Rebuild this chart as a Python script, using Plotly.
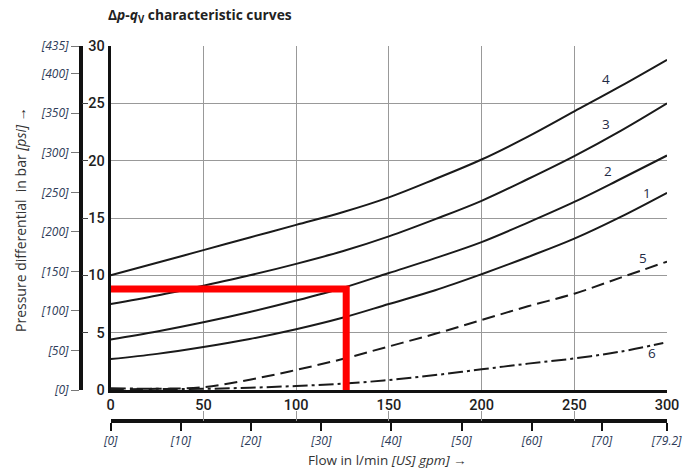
import plotly.graph_objects as go

# ---- data ----
flow = [0, 25, 50, 75, 100, 125, 150, 175, 200, 225, 250, 275, 300]
curve1 = [2.7, 3.15, 3.75, 4.45, 5.3, 6.3, 7.5, 8.7, 10.1, 11.6, 13.2, 15.1, 17.2]
curve2 = [4.4, 5.1, 5.9, 6.8, 7.8, 8.9, 10.2, 11.5, 12.9, 14.6, 16.4, 18.4, 20.45]
curve3 = [7.5, 8.25, 9.1, 10.0, 11.0, 12.1, 13.4, 14.9, 16.5, 18.4, 20.4, 22.6, 25.0]
curve4 = [10.0, 11.1, 12.2, 13.3, 14.4, 15.5, 16.8, 18.4, 20.1, 22.1, 24.3, 26.5, 28.8]
flow5 = [0, 25, 50, 75, 100, 125, 150, 175, 200, 225, 250, 275, 300]
curve5 = [0.05, 0.1, 0.25, 0.9, 1.75, 2.7, 3.8, 4.9, 6.1, 7.3, 8.4, 9.8, 11.2]
flow6 = [0, 25, 50, 75, 100, 125, 150, 175, 200, 225, 250, 275, 298]
curve6 = [0.15, 0.1, 0.1, 0.2, 0.35, 0.55, 0.87, 1.3, 1.8, 2.3, 2.75, 3.35, 4.1]
red_x = [-3, 127, 127]
red_y = [8.8, 8.8, 0]

curve_labels = ["4", "3", "2", "1", "5", "6"]
label_x = [267, 267, 268, 289, 287, 292]
label_y = [27.1, 23.2, 19.1, 17.2, 11.5, 3.2]

bar_ticks = [0, 5, 10, 15, 20, 25, 30]
psi_ticks = [0, 50, 100, 150, 200, 250, 300, 350, 400, 435]
psi_text = ["[0]", "[50]", "[100]", "[150]", "[200]", "[250]", "[300]", "[350]", "[400]", "[435]"]
lmin_ticks = [0, 50, 100, 150, 200, 250, 300]
gpm_ticks = [0, 10, 20, 30, 40, 50, 60, 70, 79.2]
gpm_text = ["[0]", "[10]", "[20]", "[30]", "[40]", "[50]", "[60]", "[70]", "[79.2]"]

BAR_TO_PSI = 14.5038
LMIN_TO_GPM = 1 / 3.78541

fig = go.Figure()
for ys in [curve1, curve2, curve3, curve4]:
    fig.add_trace(go.Scatter(x=flow, y=ys, mode="lines", line=dict(color="#1a1a1a", width=2, shape="spline"),
                             showlegend=False, hoverinfo="skip"))
fig.add_trace(go.Scatter(x=flow5, y=curve5, mode="lines",
                         line=dict(color="#1a1a1a", width=2, dash="13px,6px", shape="spline"),
                         showlegend=False, hoverinfo="skip"))
fig.add_trace(go.Scatter(x=flow6, y=curve6, mode="lines",
                         line=dict(color="#1a1a1a", width=2, dash="15px,4px,3px,4px", shape="spline"),
                         showlegend=False, hoverinfo="skip"))
fig.add_trace(go.Scatter(x=red_x, y=red_y, mode="lines", line=dict(color="#ff0000", width=7),
                         showlegend=False, hoverinfo="skip"))

# dummy traces to activate secondary axes
fig.add_trace(go.Scatter(x=[0], y=[0], xaxis="x2", yaxis="y", mode="none", showlegend=False, hoverinfo="skip"))
fig.add_trace(go.Scatter(x=[0], y=[0], xaxis="x3", yaxis="y", mode="none", showlegend=False, hoverinfo="skip"))
fig.add_trace(go.Scatter(x=[0], y=[0], xaxis="x", yaxis="y2", mode="none", showlegend=False, hoverinfo="skip"))
fig.add_trace(go.Scatter(x=[0], y=[0], xaxis="x", yaxis="y3", mode="none", showlegend=False, hoverinfo="skip"))

for t, xv, yv in zip(curve_labels, label_x, label_y):
    fig.add_annotation(x=xv, y=yv, text=t, showarrow=False,
                       font=dict(family="Open Sans", size=13.5, color="#1f2b45"))

W, H = 698, 473
ml, mr, mt, mb = 81, 31, 46, 52
pw = W - ml - mr
ph = H - mt - mb
xd0 = (110.7 - ml) / pw
yd0 = (H - mb - 390) / ph

num_font = dict(family="Roboto", size=14.5, color="#1e1e1e", weight=500)
it_font = dict(family="Open Sans", size=12, color="#2d3b58")

fig.update_layout(
    width=W, height=H,
    margin=dict(l=ml, r=mr, t=mt, b=mb, autoexpand=False),
    paper_bgcolor="white", plot_bgcolor="white",
    title=dict(text="<b>Δ<i>p</i>-<i>q</i><sub>V</sub> characteristic curves</b>",
               x=108 / W, xanchor="left", xref="container",
               y=1 - 15 / H, yanchor="middle", yref="container",
               font=dict(family="Open Sans", size=13.8, color="#222222")),
    xaxis=dict(domain=[xd0, 1], range=[0, 300], tickvals=lmin_ticks, showgrid=True,
               gridcolor="#999999", gridwidth=1, showline=True, linecolor="#111111", linewidth=3,
               ticks="", tickfont=num_font, zeroline=False, anchor="y", automargin=False),
    yaxis=dict(domain=[yd0, 1], range=[0, 30], tickvals=bar_ticks, showgrid=True,
               gridcolor="#999999", gridwidth=1, showline=True, linecolor="#111111", linewidth=3,
               ticks="", tickfont=num_font, zeroline=False, anchor="x", automargin=False),
    xaxis2=dict(domain=[xd0, 1], range=[0, 300 * LMIN_TO_GPM], overlaying="x", anchor="free", position=0,
                side="bottom", tickvals=gpm_ticks, ticktext=["<i>" + s + "</i>" for s in gpm_text],
                ticks="outside", ticklen=8, tickwidth=1.5, tickcolor="#111111",
                showline=True, linecolor="#111111", linewidth=4, showgrid=False, zeroline=False,
                tickfont=dict(family="Open Sans", size=12, color="#2d3b58"), automargin=False),
    xaxis3=dict(domain=[xd0, 1], range=[0, 300], overlaying="x", anchor="free", position=0,
                side="bottom", tickvals=lmin_ticks, ticks="inside", ticklen=10, tickwidth=1.2,
                tickcolor="#999999", showticklabels=False, showline=False, showgrid=False, zeroline=False,
                automargin=False),
    yaxis2=dict(domain=[yd0, 1], range=[0, 30 * BAR_TO_PSI], overlaying="y", anchor="free", position=0,
                side="left", tickvals=psi_ticks, ticktext=["<i>" + s + "</i>" for s in psi_text],
                ticks="outside", ticklen=8, tickwidth=1.2, tickcolor="#777777",
                showline=True, linecolor="#111111", linewidth=4, showgrid=False, zeroline=False,
                tickfont=it_font, automargin=False),
    yaxis3=dict(domain=[yd0, 1], range=[0, 30], overlaying="y", anchor="free", position=0,
                side="left", tickvals=bar_ticks, ticks="inside", ticklen=6, tickwidth=1.2,
                tickcolor="#444444", showticklabels=False, showline=False, showgrid=False, zeroline=False,
                automargin=False),
)

fig.add_annotation(text="Pressure differential  in bar <i>[psi]</i> →", xref="paper", yref="paper",
                   x=(20 - ml) / pw, y=(H - mb - 220) / ph, textangle=-90, showarrow=False,
                   xanchor="center", yanchor="middle",
                   font=dict(family="Open Sans", size=14, color="#333333"))
fig.add_annotation(text="Flow in l/min <i>[US] gpm]</i> →", xref="paper", yref="paper",
                   x=(387 - ml) / pw, y=(H - mb - 460) / ph, showarrow=False,
                   xanchor="center", yanchor="middle",
                   font=dict(family="Open Sans", size=13.5, color="#333333"))

fig.write_html("out.html", config={"displayModeBar": False},
               post_script="document.body.style.margin='0px';document.body.style.overflow='hidden';")
